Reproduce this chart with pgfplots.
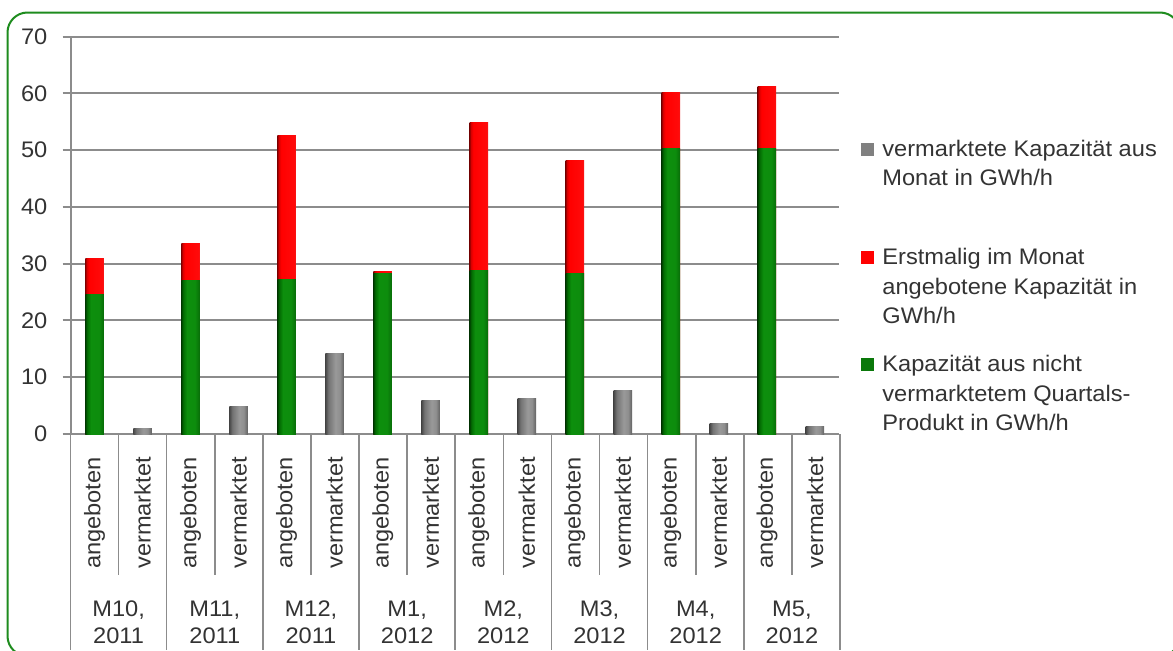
\documentclass[border=0pt]{standalone}
\usepackage{pgfplots}
\usepackage{pgfplotstable}
\pgfplotsset{compat=1.18}
\usepackage{fontspec}
\setmainfont{Liberation Sans}[FakeStretch=1.05]

\definecolor{txt}{HTML}{333333}
\definecolor{gridgray}{HTML}{8C8C8C}
\definecolor{frameGreen}{HTML}{1E8C1E}
\definecolor{keyGray}{HTML}{808080}
\definecolor{keyRed}{HTML}{FF0000}
\definecolor{keyGreen}{HTML}{0A780A}

% cylinder-like bar shadings (the bar spans 25bp..75bp)
\pgfdeclarehorizontalshading{barRed}{100bp}{
  rgb(0bp)=(0.55,0,0); rgb(25bp)=(0.55,0,0); rgb(29bp)=(0.85,0,0);
  rgb(35bp)=(1,0,0); rgb(70bp)=(1,0.04,0.04); rgb(75bp)=(0.95,0.1,0.1); rgb(100bp)=(0.95,0.1,0.1)}
\pgfdeclarehorizontalshading{barGreen}{100bp}{
  rgb(0bp)=(0,0.24,0); rgb(25bp)=(0,0.24,0); rgb(30bp)=(0.01,0.42,0.01);
  rgb(40bp)=(0.05,0.56,0.05); rgb(62bp)=(0.05,0.55,0.05); rgb(75bp)=(0.03,0.42,0.03); rgb(100bp)=(0.03,0.42,0.03)}
\pgfdeclarehorizontalshading{barGray}{100bp}{
  rgb(0bp)=(0.28,0.28,0.28); rgb(25bp)=(0.28,0.28,0.28); rgb(33bp)=(0.45,0.45,0.45);
  rgb(52bp)=(0.6,0.6,0.6); rgb(64bp)=(0.56,0.56,0.56); rgb(75bp)=(0.38,0.38,0.38); rgb(100bp)=(0.38,0.38,0.38)}

% offered capacity per month: part from the unsold quarterly product, and total
\pgfplotstableread{
pos green total
0  24.5  30.9
2  27.1  33.6
4  27.2  52.6
6  28.3  28.6
8  28.8  54.9
10 28.3  48.2
12 50.3  60.1
14 50.3  61.2
}\offered

% marketed capacity per month
\pgfplotstableread{
pos sold
1  1.0
3  4.9
5  14.2
7  5.9
9  6.2
11 7.7
13 1.9
15 1.35
}\sold

\newcommand{\lbl}{\fontsize{11.25}{14}\selectfont}

\begin{document}
\begin{tikzpicture}[font=\lbl,text=txt]
\useasboundingbox (0,0) rectangle (586.5pt,325pt);

\begin{axis}[
  at={(35.25pt,108pt)}, anchor=south west,
  scale only axis, width=384.25pt, height=198.65pt,
  xmin=-0.5, xmax=15.5, ymin=0, ymax=70,
  ybar, bar shift=0pt, bar width=9.25pt,
  axis x line*=bottom, axis y line*=left,
  axis line style={gridgray,line width=1pt},
  ymajorgrids, grid style={gridgray,line width=1pt},
  ytick={0,10,...,70},
  xtick={0,...,15},
  xticklabels={angeboten,vermarktet,angeboten,vermarktet,angeboten,vermarktet,angeboten,vermarktet,
               angeboten,vermarktet,angeboten,vermarktet,angeboten,vermarktet,angeboten,vermarktet},
  major tick length=4pt, tick align=outside,
  xtick style={draw=none},
  ytick style={gridgray,line width=1pt},
  /pgf/number format/assume math mode=true,
  ticklabel style={font=\lbl,text=txt},
  yticklabel style={anchor=east,inner sep=0pt,xshift=-7.4pt},
  xticklabel style={inner sep=0pt,yshift=-35.5pt,rotate=90,anchor=center},
  clip=false,
]
% one plot per bar so that every bar gets its own shading;
% the red total is drawn first, the green part on top of it
\pgfplotsinvokeforeach{0,2,4,6,8,10,12,14}{
  \addplot[draw=none,shading=barRed,restrict x to domain=#1:#1]
    table[x=pos,y=total]{\offered};
  \addplot[draw=none,shading=barGreen,restrict x to domain=#1:#1]
    table[x=pos,y=green]{\offered};
}
\pgfplotsinvokeforeach{1,3,5,7,9,11,13,15}{
  \addplot[draw=none,shading=barGray,restrict x to domain=#1:#1]
    table[x=pos,y=sold]{\sold};
}
\end{axis}

% everything else in pixel-like units measured from the top-left corner
\begin{scope}[x=0.5pt,y=-0.5pt,shift={(0,325pt)}]
% rounded green frame, partly running off the page
\begin{scope}
  \clip (0,0) rectangle (1173,650);
  \draw[frameGreen,line width=1pt,rounded corners=10pt] (7.5,12.5) rectangle (1180,656);
\end{scope}

% category separators below the axis
\foreach \k in {0,...,8}
  \draw[gridgray,line width=0.8pt] ({70.5+96.1875*\k},434) -- ({70.5+96.1875*\k},650);
\foreach \k in {0,...,7}
  \draw[gridgray,line width=0.8pt] ({118.59+96.1875*\k},434) -- ({118.59+96.1875*\k},575);

% month labels
\foreach \m/\yr [count=\i from 0] in {{M10,}/2011,{M11,}/2011,{M12,}/2011,{M1,}/2012,{M2,}/2012,{M3,}/2012,{M4,}/2012,{M5,}/2012}{
  \node[anchor=base,inner sep=0pt] at ({118.59+96.1875*\i},616) {\m};
  \node[anchor=base,inner sep=0pt] at ({118.59+96.1875*\i},643) {\yr};
}

% legend
\fill[keyGray]  (861,142.5) rectangle (874,155.5);
\node[anchor=base west,inner sep=0pt] at (882,156)   {vermarktete Kapazität aus};
\node[anchor=base west,inner sep=0pt] at (882,185.5) {Monat in GWh/h};
\fill[keyRed]   (861,250.5) rectangle (874,263.5);
\node[anchor=base west,inner sep=0pt] at (882,264)   {Erstmalig im Monat};
\node[anchor=base west,inner sep=0pt] at (882,294)   {angebotene Kapazität in};
\node[anchor=base west,inner sep=0pt] at (882,323.5) {GWh/h};
\fill[keyGreen] (861,357.5) rectangle (874,370.5);
\node[anchor=base west,inner sep=0pt] at (882,371)   {Kapazität aus nicht};
\node[anchor=base west,inner sep=0pt] at (882,401)   {vermarktetem Quartals-};
\node[anchor=base west,inner sep=0pt] at (882,430)   {Produkt in GWh/h};
\end{scope}
\end{tikzpicture}
\end{document}
